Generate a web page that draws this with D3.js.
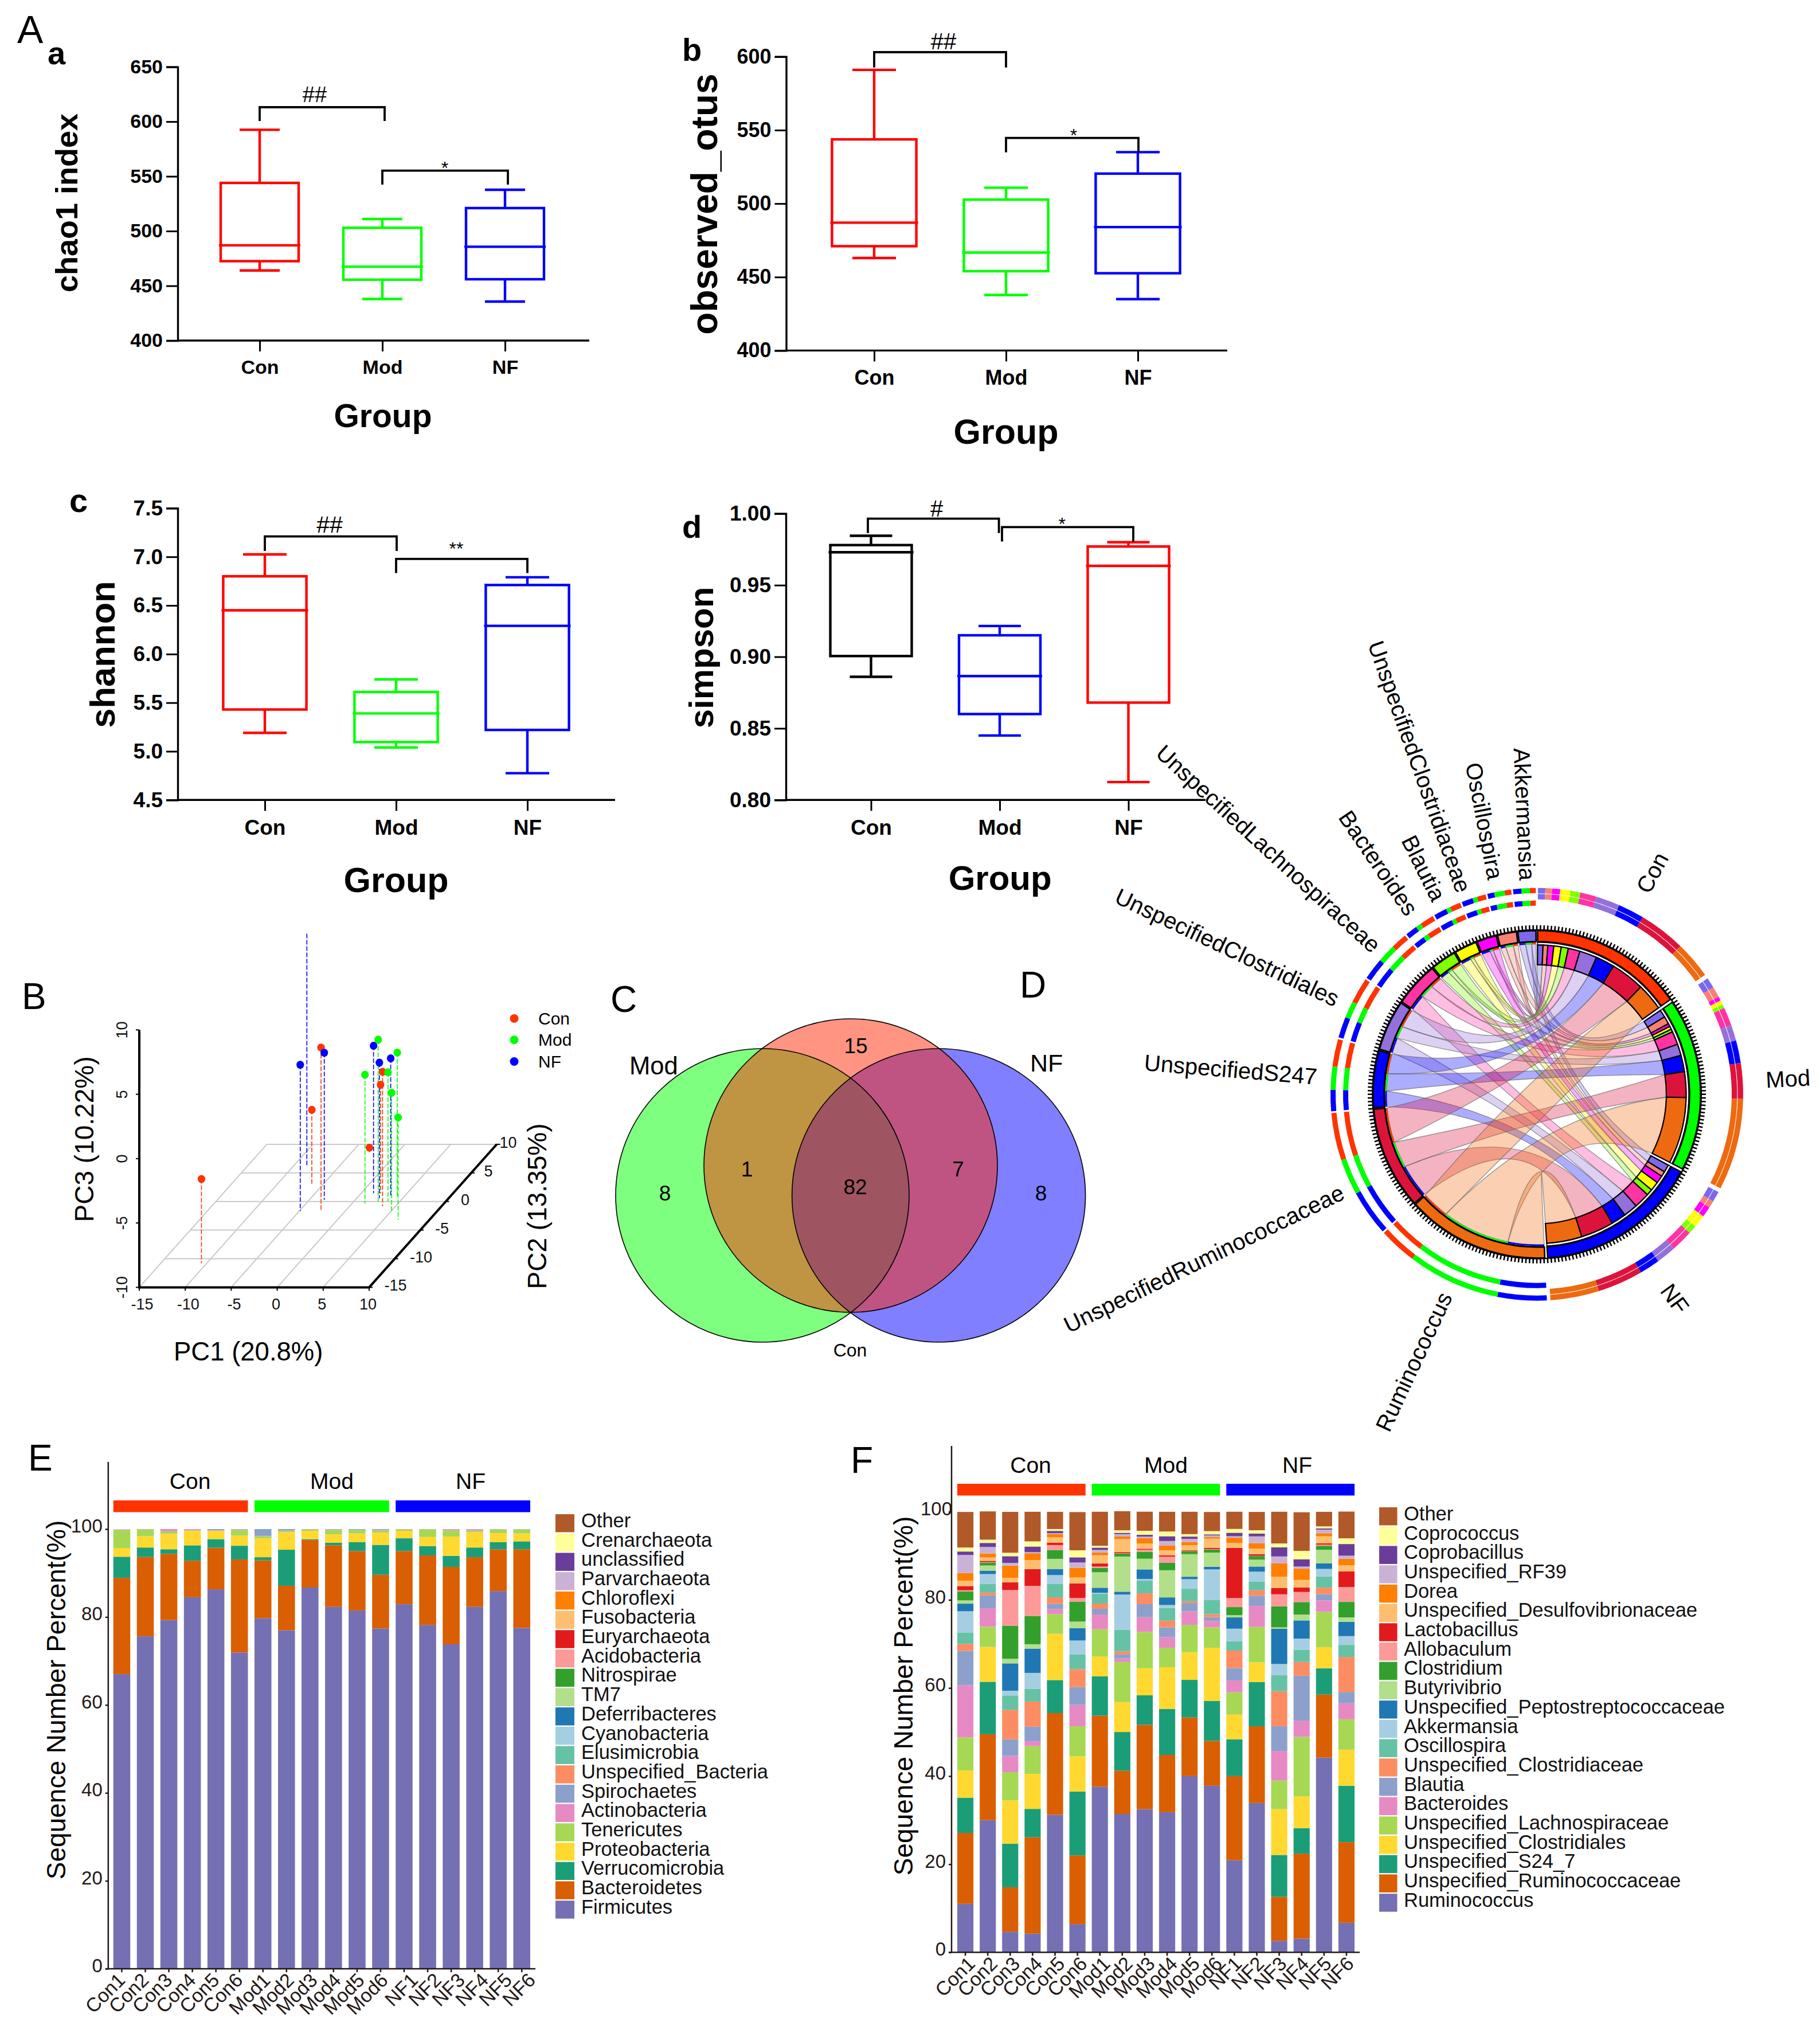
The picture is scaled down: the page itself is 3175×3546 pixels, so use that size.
<!DOCTYPE html>
<html><head><meta charset="utf-8">
<script src="https://cdn.jsdelivr.net/npm/d3@7/dist/d3.min.js"></script>
<style>html,body{margin:0;padding:0;background:#fff}svg{display:block}text{font-family:"Liberation Sans",Arial,sans-serif}</style>
</head><body>
<svg id="chart" width="3175" height="3546" viewBox="0 0 3175 3546"></svg>
<script>
// ---------- data ----------
const groups = ["Con","Mod","NF"];
const samples = ["Con1","Con2","Con3","Con4","Con5","Con6","Mod1","Mod2","Mod3","Mod4","Mod5","Mod6","NF1","NF2","NF3","NF4","NF5","NF6"];
// box statistics: whisker high, q3, median, q1, whisker low
const chaoCon=[592.5,544,487,472.5,464], chaoMod=[511,503,467.5,455.6,438], chaoNF=[537.7,521,485.7,456,435.6];
const otusCon=[591,543.7,487,471,463], otusMod=[510.8,502.7,466.7,454,437.8], otusNF=[535,520.4,484,452.6,435];
const shanCon=[7.025,6.80,6.45,5.43,5.19], shanMod=[5.74,5.61,5.39,5.095,5.04], shanNF=[6.79,6.71,6.29,5.22,4.775];
const simpCon=[0.9845,0.978,0.973,0.9005,0.886], simpMod=[0.9215,0.915,0.8865,0.860,0.845], simpNF=[0.980,0.977,0.9635,0.868,0.8125];
// PCoA [pc1, pc2, pc3]
const pcoaCon=[[-10.57,-10.8,-3.45],[-6.14,2.84,-4.14],[-2.64,-1.66,2.70],[-3.07,8.6,-9.64],[3.6,-0.84,0.45],[2.1,1.46,-1.57]];
const pcoaMod=[[2.69,-0.07,2.6],[4.4,0.6,1.3],[1.4,-0.33,0],[3.76,-0.07,0.07],[5.2,-1.96,-0.68],[6.6,-3.2,-2.05]];
const pcoaNF=[[-8.6,6.3,8.5],[-4.9,-1.66,1.36],[-3.37,0.29,1.43],[1.34,1.46,1.45],[2.45,0.6,0.52],[3.49,0.95,0.7]];
const pcoaTicksX=[-15,-10,-5,0,5,10], pcoaTicksY=[-15,-10,-5,0,5,10], pcoaTicksZ=[-10,-5,0,5,10];
const vennCounts=["15","1","82","7","8","8"];
// phylum stack
const phylumNames=["Firmicutes","Bacteroidetes","Verrucomicrobia","Proteobacteria","Tenericutes","Actinobacteria","Spirochaetes","Unspecified_Bacteria","Elusimicrobia","Cyanobacteria","Deferribacteres","TM7","Nitrospirae","Acidobacteria","Euryarchaeota","Fusobacteria","Chloroflexi","Parvarchaeota","unclassified","Crenarchaeota","Other"];
const firmicutes=[67,75.6,79.3,84.5,86.3,71.9,79.7,77,86.7,82.3,81.5,77.4,82.9,78.2,73.8,82.3,85.9,77.5];
const bacteroidetes=[21.9,18.05,15.05,8.3,9.45,21.2,13.2,10.1,10.8,14,13.5,12.2,12.1,15.8,17.6,11.3,9.5,17.9];
const verrucomicrobia=[4.8,2.15,1.05,3.5,1.95,3.1,0.7,8.2,0.2,0.6,2,6.8,2.9,2.1,2.5,2.2,1.6,1.8];
const proteobacteria=[2,2.6,3.5,3.3,1.9,2.3,4.3,4,1.9,1.9,2,2.8,1.7,2.1,4.4,3.5,2.1,1.8];
const tenericutes=[4.1,1.5,0.6,0.1,0.05,1.3,0.5,0.3,0.3,1,0.8,0.45,0.3,1.7,1.4,0.35,0.8,0.9];
const actinobacteria=[0.1,0.05,0.5,0.25,0.05,0.1,0.05,0.1,0.05,0.1,0.05,0.15,0.05,0.05,0.25,0.3,0.05,0.05];
const spirochaetes=[0.05,0.05,0,0.05,0.3,0.1,1.55,0.3,0.05,0.1,0.15,0.2,0.05,0.05,0.05,0.05,0.05,0.05];
const phylumSeries=[firmicutes,bacteroidetes,verrucomicrobia,proteobacteria,tenericutes,actinobacteria,spirochaetes];
// genus stack
const genusNames=["Ruminococcus","Unspecified_Ruminococcaceae","Unspecified_S24_7","Unspecified_Clostridiales","Unspecified_Lachnospiraceae","Bacteroides","Blautia","Unspecified_Clostridiaceae","Oscillospira","Akkermansia","Unspecified_Peptostreptococcaceae","Butyrivibrio","Clostridium","Allobaculum","Lactobacillus","Unspecified_Desulfovibrionaceae","Dorea","Unspecified_RF39","Coprobacillus","Coprococcus","Other"];
const ruminococcus=[11,30,4.7,4.25,31.2,6.4,37.6,31.4,32.5,31.8,40,37.8,20.9,33.9,2.6,3.1,44.2,6.7];
const ruminococcaceae=[16.1,19.5,10.05,21.85,23.1,15.6,16.1,9.8,19.15,13,13.3,10.2,19.1,17.4,10,19.3,14.3,18.3];
const s247=[8,11.9,9.9,6.45,7.5,14.5,8.93,8.8,6.68,10.45,8.54,9.07,8.35,10.06,9.5,5.8,5.94,12.8];
const clostridiales=[6.2,7.9,9.85,7.95,10.5,8,4.55,6.8,6.16,9.45,6.29,12.06,5.6,4.47,10.4,7.2,4.81,8.2];
const lachnospiraceae=[7.5,4.6,6.4,6.3,4.47,6.8,6.16,9.1,8.24,4.42,6.2,4.64,5.07,8.02,6.5,13.5,8.02,6.9];
const bacteroides=[11.8,4.2,3.7,1.1,1.17,4.86,3.34,0.82,3.34,2.43,3.08,1.43,2.69,4.77,6.7,3.7,2.6,3.64];
const blautia=[7.8,2.9,3.75,3.3,1.17,4.03,1.3,0.95,2.95,2.21,1.86,0.87,2.78,2.3,5.6,10.19,1.43,2.56];
const clostridiaceae=[1.6,0.65,6.7,5.72,1.47,4.08,1.17,0.65,2.47,1.52,0.43,0.69,3.99,1.26,7.98,3.12,1.47,7.94];
const oscillospira=[2.6,1.95,3.25,2.9,3,3.38,2.21,4.86,2.86,2.9,2.82,3.25,2.08,2,3.6,2.78,2.56,2.73];
const akkermansia=[4.81,2.25,1.08,3.6,2.04,3.12,0.26,8.02,0.39,0.65,2.17,6.9,2.9,2.21,2.56,2.52,1.69,2];
const peptostrep=[1.73,0.78,6.2,5.51,1.39,2.82,1.13,0.65,2.17,1.73,0.56,0.61,2.56,1.17,8.02,4.12,1.26,3.25];
const butyrivibrio=[0.74,1.17,1.04,1,2.3,1.47,3.51,7.98,2.43,6.16,5.12,3.21,0.52,1.56,0.3,1.34,3.08,1];
const clostridium=[2.04,0.65,7.46,6.42,2,4.55,1,0.65,1.56,1.69,0.65,0.69,1.82,0.82,4.77,2.82,0.91,3.51];
const allobaculum=[0.26,0.1,8.15,6.81,1.13,0.82,0.3,0.1,0.48,1.39,0.05,0.1,2.04,0.05,2.73,2.3,0.26,3.38];
const lactobacillus=[0.95,0.3,1.73,3.82,0.52,3.3,0.69,0.26,0.22,0.3,0.17,0.26,11.4,0.39,1.43,1,0.3,3.56];
const desulfo=[1.21,0.78,1.04,2.04,1.21,1.34,1.86,2.95,1.17,1.13,1.17,2.12,1.13,1.26,2.56,1.73,1.6,1.39];
const dorea=[1.73,0.91,2.78,1.56,0.74,2.2,0.61,0.61,1.21,1.13,0.74,0.35,1.17,1.21,3.08,2.56,0.69,1.47];
const rf39=[4.12,1.47,0.61,0.26,0.22,1.21,0.61,0.52,0.39,1,0.69,0.39,0.35,1.56,1.52,0.48,0.82,0.69];
const coprobacillus=[0.78,0.91,1.52,1.26,0.52,1.17,0.52,0.3,0.39,1.08,0.52,0.22,0.78,0.65,2.08,1.65,0.26,2.65];
const coprococcus=[0.91,0.74,0.78,1.17,0.43,1.6,0.43,0.56,0.91,1.08,0.56,0.74,0.87,0.74,0.87,1.91,0.48,1.3];
const otherGenus=[8.07,6.42,9.28,6.72,3.9,8.67,7.72,4.34,4.34,4.47,5.07,4.34,3.9,4.16,7.2,8.76,3.3,6.07];
const genusSeries=[ruminococcus,ruminococcaceae,s247,clostridiales,lachnospiraceae,bacteroides,blautia,clostridiaceae,oscillospira,akkermansia,peptostrep,butyrivibrio,clostridium,allobaculum,lactobacillus,desulfo,dorea,rf39,coprobacillus,coprococcus,otherGenus];
// Brewer-like palette bottom to top
const stackColors=["#7570B3","#D95F02","#1B9E77","#FFD92F","#A6D854","#E78AC3","#8DA0CB","#FC8D62","#66C2A5","#A6CEE3","#1F78B4","#B2DF8A","#33A02C","#FB9A99","#E31A1C","#FDBF6F","#FF7F00","#CAB2D6","#6A3D9A","#FFFF99","#B15928"];
// chord: top ten genera, clockwise
const chordGenera=["Akkermansia","Oscillospira","UnspecifiedClostridiaceae","Blautia","Bacteroides","UnspecifiedLachnospiraceae","UnspecifiedClostridiales","UnspecifiedS247","UnspecifiedRuminococcaceae","Ruminococcus"];
const chordColors=["#7B68EE","#FA8072","#FF00FF","#FFFF00","#7FFF00","#FF34A3","#9370DB","#0000FF","#DC143C","#EE6A10"];
const chordCon=[2.1,1.9,2.3,2.9,2.8,4.6,6.8,7.4,13.3,10.6];
const chordMod=[3,3,1.2,1.2,1.1,5.2,4.5,6.4,10.1,26];
const chordNF=[3,2,3,3.6,2.4,6.2,5.6,5.8,12.9,13.8];
const genusTotals=[6.4,6.8,7,8,9,16,18,20.4,36.7,51];

const RED="#FF0000",GREEN="#00FF00",BLUE="#0000FF",GRED="#FF3300";
const groupColor=[GRED,GREEN,BLUE];
const svg=d3.select("#chart");
svg.append("rect").attr("width",3175).attr("height",3546).attr("fill","#fff");

function T(p,x,y,s,o={}){
  const t=p.append("text").text(s).attr("font-size",o.size||34)
    .attr("font-weight",o.weight||"normal").attr("fill",o.fill||"#000")
    .attr("text-anchor",o.anchor||"start");
  if(o.rot!==undefined) t.attr("transform",`translate(${x},${y}) rotate(${o.rot})`);
  else t.attr("x",x).attr("y",y);
  if(o.dy) t.attr("dy",o.dy);
  return t;
}
// ---------- panel A ----------
const boxPanels=[
 {id:"a",title:"chao1 index",tx:135,ty:354,tsize:54,stats:[chaoCon,chaoMod,chaoNF],cols:[RED,GREEN,BLUE],
  ax:310,right:1028,y0:594,y1:116.6,dom:[400,650],ticks:[400,450,500,550,600,650],fmt:d3.format("d"),cx:[453,881],hb:68,cap:35,fs:34,
  gx:668,gy:745,gs:57,plx:83,ply:112,pls:56,
  br:[[453,671,187,211],[667,886,297.6,322]],sig:[["##",549,178,38],["*",776,304,32]]},
 {id:"b",title:"observed_otus",tx:1251,ty:356,tsize:64,stats:[otusCon,otusMod,otusNF],cols:[RED,GREEN,BLUE],
  ax:1371.5,right:2141,y0:611.4,y1:98.8,dom:[400,600],ticks:[400,450,500,550,600],fmt:d3.format("d"),cx:[1525,1985],hb:73.6,cap:38,fs:36,
  gx:1755,gy:774,gs:61,plx:1190,ply:106,pls:56,
  br:[[1525,1755,91,117.7],[1755,1986,240.6,265.7]],sig:[["##",1646,86,40],["*",1873,247,32]]},
 {id:"c",title:"shannon",tx:200,ty:1141.6,tsize:61.5,stats:[shanCon,shanMod,shanNF],cols:[RED,GREEN,BLUE],
  ax:310,right:1073,y0:1395.3,y1:886.4,dom:[4.5,7.5],ticks:[4.5,5,5.5,6,6.5,7,7.5],fmt:d3.format(".1f"),cx:[462,920],hb:72.6,cap:38,fs:37,
  gx:691,gy:1556,gs:61,plx:121,ply:893,pls:58,
  br:[[462,692,935.6,961],[691,920,974.8,999.4]],sig:[["##",575,929,41],["**",796,968,32]]},
 {id:"d",title:"simpson",tx:1244,ty:1147,tsize:60,stats:[simpCon,simpMod,simpNF],cols:["#000",BLUE,RED],
  ax:1371,right:2103,y0:1395.3,y1:895.8,dom:[0.8,1],ticks:[0.8,0.85,0.9,0.95,1],fmt:d3.format(".2f"),cx:[1519.5,1968.5],hb:71,cap:37,fs:37,
  gx:1744.7,gy:1552,gs:60,plx:1190,ply:938,pls:56,
  br:[[1514,1742.6,904.7,929.8],[1748,1977,919.4,944.5]],sig:[["#",1634,901,40],["*",1852.7,925,32]]}
];
boxPanels.forEach(P=>{
  const g=svg.append("g");
  const y=d3.scaleLinear().domain(P.dom).range([P.y0,P.y1]);
  const x=d3.scalePoint().domain(groups).range(P.cx);
  const ya=g.append("g").attr("transform",`translate(${P.ax},0)`).call(d3.axisLeft(y).tickValues(P.ticks).tickFormat(P.fmt).tickSize(20).tickPadding(6));
  const xa=g.append("g").attr("transform",`translate(0,${P.y0})`).call(d3.axisBottom(x).tickSize(19).tickPadding(15));
  [ya,xa].forEach(a=>{a.selectAll("text").attr("font-size",P.fs).attr("font-weight","bold").attr("fill","#000").style("font-family",'"Liberation Sans"');
    a.selectAll("line").attr("stroke","#000").attr("stroke-width",3);a.select(".domain").attr("stroke","#000").attr("stroke-width",3.4);});
  xa.select(".domain").remove();
  g.append("line").attr("x1",P.ax).attr("x2",P.right).attr("y1",P.y0).attr("y2",P.y0).attr("stroke","#000").attr("stroke-width",3.4);
  P.stats.forEach((s,i)=>{
    const c=P.cols[i],cx=x(groups[i]),L=(x1,y1,x2,y2)=>g.append("line").attr("x1",x1).attr("y1",y1).attr("x2",x2).attr("y2",y2).attr("stroke",c).attr("stroke-width",4.4);
    L(cx,y(s[0]),cx,y(s[1]));L(cx,y(s[3]),cx,y(s[4]));
    L(cx-P.cap,y(s[0]),cx+P.cap,y(s[0]));L(cx-P.cap,y(s[4]),cx+P.cap,y(s[4]));
    g.append("rect").attr("x",cx-P.hb).attr("y",y(s[1])).attr("width",2*P.hb).attr("height",y(s[3])-y(s[1])).attr("fill","none").attr("stroke",c).attr("stroke-width",4.4);
    L(cx-P.hb-3,y(s[2]),cx+P.hb+3,y(s[2]));
  });
  P.br.forEach(b=>g.append("path").attr("d",`M${b[0]},${b[3]}V${b[2]}H${b[1]}V${b[3]}`).attr("fill","none").attr("stroke","#000").attr("stroke-width",3.8));
  P.sig.forEach(s=>T(g,s[1],s[2],s[0],{size:s[3],anchor:"middle"}));
  T(g,P.tx,P.ty,P.title,{size:P.tsize,weight:"bold",anchor:"middle",rot:-90});
  T(g,P.gx,P.gy,"Group",{size:P.gs,weight:"bold",anchor:"middle"});
  T(g,P.plx,P.ply,P.id,{size:P.pls,weight:"bold"});
});
T(svg,30,75,"A",{size:68});

// ---------- panel B ----------
(function(){
  const g=svg.append("g");
  T(g,38,1760,"B",{size:64});
  const xs=d3.scaleLinear().domain([-15,10]).range([243,644]);
  const zs=d3.scaleLinear().domain([-10,10]).range([2245.4,1796.4]);
  const ts=d3.scaleLinear().domain([-15,10]).range([0,1]);
  const DX=222.6,DY=249.5;
  const px=(a,b)=>xs(a)+ts(b)*DX, py=(b,c)=>zs(c)-ts(b)*DY;
  const grid=g.append("g").attr("stroke","#c9c9c9").attr("stroke-width",2);
  pcoaTicksX.forEach(v=>grid.append("line").attr("x1",px(v,-15)).attr("y1",py(-15,-10)).attr("x2",px(v,10)).attr("y2",py(10,-10)));
  pcoaTicksY.forEach(v=>grid.append("line").attr("x1",px(-15,v)).attr("y1",py(v,-10)).attr("x2",px(10,v)).attr("y2",py(v,-10)));
  const axis=g.append("g").attr("stroke","#000").attr("stroke-width",4).attr("fill","none");
  axis.append("path").attr("d",`M${xs(-15)},${zs(10)}V${zs(-10)}H${xs(10)}L${px(10,10)},${py(10,-10)}`);
  pcoaTicksZ.forEach(v=>{axis.append("line").attr("x1",xs(-15)-6).attr("x2",xs(-15)).attr("y1",zs(v)).attr("y2",zs(v)).attr("stroke-width",2);
    T(g,222,zs(v),v,{size:27,anchor:"middle",rot:-90,fill:"#111"});});
  pcoaTicksX.forEach(v=>{axis.append("line").attr("x1",xs(v)).attr("x2",xs(v)).attr("y1",zs(-10)).attr("y2",zs(-10)+6).attr("stroke-width",2);
    T(g,xs(v)+(v<0?5:-2),2284,v,{size:27,anchor:"middle",fill:"#111"});});
  pcoaTicksY.forEach(v=>{axis.append("line").attr("x1",px(10,v)).attr("y1",py(v,-10)).attr("x2",px(10,v)+6).attr("y2",py(v,-10)).attr("stroke-width",2);
    T(g,px(10,v)+(v==10?20:v==5?30:v==0?34:v==-5?38:46),py(v,-10)+6,v,{size:27,anchor:"middle",fill:"#111"});});
  const defs=svg.append("defs");
  defs.append("clipPath").attr("id","pcClip").append("rect").attr("x",200).attr("y",1628).attr("width",800).attr("height",800);
  const pts=g.append("g").attr("clip-path","url(#pcClip)");
  [[pcoaCon,GRED],[pcoaMod,GREEN],[pcoaNF,BLUE]].forEach(([arr,c])=>arr.forEach(d=>{
    pts.append("line").attr("x1",px(d[0],d[1])).attr("x2",px(d[0],d[1])).attr("y1",py(d[1],d[2])).attr("y2",py(d[1],-10)).attr("stroke",c).attr("stroke-width",1.6).attr("stroke-dasharray","8,3");
  }));
  [[pcoaCon,GRED],[pcoaMod,GREEN],[pcoaNF,BLUE]].forEach(([arr,c])=>arr.forEach(d=>{
    pts.append("ellipse").attr("cx",px(d[0],d[1])).attr("cy",py(d[1],d[2])).attr("rx",6.6).attr("ry",7).attr("fill",c);
  }));
  groups.forEach((n,i)=>{const yy=[1776.5,1813.8,1851.5][i];
    g.append("circle").attr("cx",897).attr("cy",yy).attr("r",7.5).attr("fill",groupColor[i]);
    T(g,939,yy+10,n,{size:30});});
  T(g,162.6,1987,"PC3 (10.22%)",{size:46,anchor:"middle",rot:-90});
  T(g,953,2104,"PC2 (13.35%)",{size:46,anchor:"middle",rot:-90});
  T(g,303,2373,"PC1 (20.8%)",{size:45.5});
})();

// ---------- panel C ----------
(function(){
  const g=svg.append("g");
  T(g,1065,1765,"C",{size:64});
  const venn=[["Mod",1330,2085,"rgba(0,255,0,.5)"],["NF",1637.6,2085,"rgba(0,0,255,.5)"],["Con",1484,2033,"rgba(255,41,5,.5)"]];
  venn.forEach(v=>g.append("circle").attr("cx",v[1]).attr("cy",v[2]).attr("r",256).attr("fill",v[3]));
  venn.forEach(v=>g.append("circle").attr("cx",v[1]).attr("cy",v[2]).attr("r",256).attr("fill","none").attr("stroke","#000").attr("stroke-width",1.6));
  const pos=[[1493,1837],[1303,2052],[1492,2083],[1671.5,2052],[1160,2093.5],[1816,2093.5]];
  vennCounts.forEach((s,i)=>T(g,pos[i][0],pos[i][1],s,{size:37,anchor:"middle"}));
  T(g,1098,1873.5,"Mod",{size:43.6});
  T(g,1797,1868.5,"NF",{size:43});
  T(g,1483,2366,"Con",{size:32,anchor:"middle"});
  T(g,1779,1740,"D",{size:64});
})();

// ---------- panel D ----------
(function(){
  const CX=2681,CY=1908.7,rad=d=>d*Math.PI/180;
  const g=svg.append("g").attr("transform",`translate(${CX},${CY})`);
  const matrix=[chordCon,chordMod,chordNF];
  const n=chordGenera.length;
  const rowSum=matrix.map(r=>d3.sum(r));
  const rightK=d3.scaleLinear().domain([0,d3.sum(rowSum)]).range([0,176.2-0.3-2*1.2]);
  // group side angles
  const rightSeg=[],groupArc=[];let a=0.3;
  matrix.forEach((row,gi)=>{
    const s=a;
    row.forEach((v,k)=>{const w=rightK(v);rightSeg.push({gi,k,a0:a,a1:a+w});a+=w;});
    groupArc.push({gi,a0:s,a1:a});a+=1.2;
  });
  // genus side angles: clockwise from Ruminococcus to Akkermansia
  const leftK=d3.scaleLinear().domain([0,d3.sum(genusTotals)]).range([0,359.7-177.2-9*0.5]);
  const genusArc=[],leftSeg=[];let b=177.2;
  d3.range(n-1,-1,-1).forEach(k=>{
    const w=leftK(genusTotals[k]),colSum=matrix[0][k]+matrix[1][k]+matrix[2][k];
    genusArc.push({k,a0:b,a1:b+w});
    let c=b;
    [2,1,0].forEach(gi=>{const ww=w*matrix[gi][k]/colSum;leftSeg.push({gi,k,a0:c,a1:c+ww});c+=ww;});
    b+=w+0.5;
  });
  const arc=(r0,r1,a0,a1)=>d3.arc()({innerRadius:r0,outerRadius:r1,startAngle:rad(a0),endAngle:rad(a1)});
  const P=(r,d)=>[r*Math.sin(rad(d)),-r*Math.cos(rad(d))];
  function ctrl(d1,d2,r){let x=Math.sin(rad(d1))+Math.sin(rad(d2)),y=-Math.cos(rad(d1))-Math.cos(rad(d2));const l=Math.hypot(x,y)||1;return [r*x/l,r*y/l];}
  // ribbons
  const ribbons=g.append("g");
  d3.range(n).forEach(k=>{[0,1,2].forEach(gi=>{
    const s=rightSeg.find(d=>d.gi==gi&&d.k==k),t=leftSeg.find(d=>d.gi==gi&&d.k==k);
    const p=d3.path(),R1=226,R2=262;
    const ps=P(R1,s.a0);p.moveTo(ps[0],ps[1]);
    p.arc(0,0,R1,rad(s.a0-90),rad(s.a1-90));
    let c=ctrl(s.a1,t.a0,34),q=P(R2,t.a0);p.quadraticCurveTo(c[0],c[1],q[0],q[1]);
    p.arc(0,0,R2,rad(t.a0-90),rad(t.a1-90));
    c=ctrl(t.a1,s.a0,34);p.quadraticCurveTo(c[0],c[1],ps[0],ps[1]);p.closePath();
    ribbons.append("path").attr("d",p.toString()).attr("fill",chordColors[k]).attr("fill-opacity",0.32).attr("stroke","#666").attr("stroke-opacity",.65).attr("stroke-width",1.4);
  });});
  // tick ring
  g.append("path").attr("d",arc(285.6,288,0,360)).attr("fill","#000");
  const tk=g.append("g").attr("stroke","#000").attr("stroke-width",2.6);
  d3.range(0,360,1.25).forEach(d=>{const p0=P(287,d),p1=P(295,d);tk.append("line").attr("x1",p0[0]).attr("y1",p0[1]).attr("x2",p1[0]).attr("y2",p1[1]);});
  // group side
  groupArc.forEach(d=>{
    g.append("path").attr("d",arc(266.5,285.6,d.a0,d.a1)).attr("fill",groupColor[d.gi]).attr("stroke","#000").attr("stroke-width",2.4);
    g.append("path").attr("d",arc(260.5,265,d.a0,d.a1)).attr("fill","#fff").attr("stroke","#000").attr("stroke-width",1.6);
  });
  rightSeg.forEach(d=>g.append("path").attr("d",arc(226,260.5,d.a0,d.a1)).attr("fill",chordColors[d.k]).attr("stroke","#000").attr("stroke-width",2.2));
  // genus side
  genusArc.forEach(d=>g.append("path").attr("d",arc(266.5,285.6,d.a0,d.a1)).attr("fill",chordColors[d.k]).attr("stroke","#000").attr("stroke-width",2.6));
  genusArc.forEach(d=>g.append("path").attr("d",arc(264.5,266.5,d.a0,d.a1)).attr("fill","#000"));
  leftSeg.forEach(d=>g.append("path").attr("d",arc(262,264.5,d.a0,d.a1)).attr("fill",groupColor[d.gi]));
  // outer rings
  rightSeg.forEach(d=>{
    g.append("path").attr("d",arc(340,349.5,d.a0,d.a1)).attr("fill",chordColors[d.k]);
    g.append("path").attr("d",arc(350.5,360,d.a0,d.a1)).attr("fill",chordColors[d.k]);
  });
  leftSeg.forEach(d=>{
    g.append("path").attr("d",arc(329,338,d.a0,d.a1)).attr("fill",groupColor[d.gi]);
    g.append("path").attr("d",arc(351,360,d.a0,d.a1)).attr("fill",groupColor[d.gi]);
  });
  // labels (centre of text in page coords)
  const labelPos=[[2660,1420,87.5],[2590,1432,79],[2477,1337,70.4],[2484,1514,63.5],[2405,1505,55.7],[2213,1480,42.5],[2141,1652,25.4],[2147,1865,4.7],[2100,2195,-26],[2466,2375,-65]];
  const lab=svg.append("g");
  chordGenera.forEach((s,i)=>T(lab,labelPos[i][0],labelPos[i][1],s,{size:40,anchor:"middle",rot:labelPos[i][2],dy:".36em"}));
  const grpPos=[[2882,1522,-62],[3119,1881,-3],[2922,2265,54]];
  groups.forEach((s,i)=>T(lab,grpPos[i][0],grpPos[i][1],s,{size:40,anchor:"middle",rot:grpPos[i][2],dy:".36em"}));
})();

// ---------- panels E, F ----------
function stacked(o){
  const g=svg.append("g");
  const x=d3.scaleBand().domain(samples).range([o.x0,o.x1]).paddingInner(0.28).paddingOuter(0);
  const y=d3.scaleLinear().domain([0,100]).range([o.y0,o.y100]);
  const rows=samples.map((s,i)=>{const r={s};o.names.forEach((n,k)=>{r[n]=o.series[k]?o.series[k][i]:0;});return r;});
  const st=d3.stack().keys(o.names)(rows);
  st.forEach((layer,k)=>{
    g.append("g").attr("fill",stackColors[k]).selectAll("rect").data(layer).join("rect")
      .attr("x",d=>x(d.data.s)).attr("width",x.bandwidth()).attr("y",d=>y(d[1])).attr("height",d=>Math.max(0,y(d[0])-y(d[1])));
  });
  const dark="#231815";
  const ya=g.append("g").attr("transform",`translate(${o.ax},0)`).call(d3.axisLeft(y).tickValues([0,20,40,60,80,100]).tickSize(5).tickPadding(5));
  ya.select(".domain").remove();
  ya.selectAll("text").attr("font-size",33).attr("fill",dark).style("font-family",'"Liberation Sans"').attr("x",d=>d==100?o.hundredX:-10).attr("y",-5);
  ya.selectAll("line").attr("stroke",dark).attr("stroke-width",2.5);
  g.append("line").attr("x1",o.ax).attr("x2",o.ax).attr("y1",o.top).attr("y2",o.y0).attr("stroke",dark).attr("stroke-width",2.5);
  const xa=g.append("g").attr("transform",`translate(0,${o.y0})`).call(d3.axisBottom(x).tickSize(6));
  xa.select(".domain").remove();
  xa.selectAll("line").attr("stroke",dark).attr("stroke-width",2.5);
  xa.selectAll("text").attr("font-size",34).attr("fill",dark).style("font-family",'"Liberation Sans"').attr("text-anchor","end").attr("x",0).attr("y",0).attr("dy",0)
    .attr("transform",(d,i)=>`translate(${o.lblDx[Math.floor(i/6)]},${o.lblDy}) rotate(-45)`);
  g.append("line").attr("x1",o.ax-5).attr("x2",o.axR).attr("y1",o.y0).attr("y2",o.y0).attr("stroke",dark).attr("stroke-width",2.5);
  groups.forEach((n,i)=>{
    const a=x(samples[i*6]),b=x(samples[i*6+5])+x.bandwidth();
    g.append("rect").attr("x",a).attr("y",o.barY).attr("width",b-a).attr("height",20.5).attr("fill",groupColor[i]);
    T(g,o.gcx[i],o.gY,n,{size:39,anchor:"middle"});
  });
  T(g,o.tx,o.ty,"Sequence Number Percent(%)",{size:46,anchor:"middle",rot:-90});
  const m=o.names.length;
  o.names.forEach((n,k)=>{
    const yy=o.leg0+(m-1-k)*33.7;
    g.append("rect").attr("x",o.legX).attr("y",yy-15.7).attr("width",o.legW).attr("height",31.4).attr("fill",stackColors[k]);
    T(g,o.legT,yy+7,n,{size:o.legS,fill:"#111"});
  });
}
T(svg,49,2565,"E",{size:64});
T(svg,1484,2569,"F",{size:64});
stacked({names:phylumNames,series:phylumSeries,x0:197.7,x1:925,y0:3434,y100:2667,ax:188.8,axR:934,top:2550,hundredX:-10,
  barY:2617,gcx:[331.6,579,821],gY:2597,tx:113.5,ty:2965,leg0:2656.8,legX:969,legW:33,legT:1014,legS:34.5,lblDx:[8,15,26],lblDy:22});
stacked({names:genusNames,series:genusSeries,x0:1670,x1:2363,y0:3405.3,y100:2636.8,ax:1660,axR:2372,top:2522,hundredX:1,
  barY:2588,gcx:[1798,2034,2263],gY:2568.7,tx:1592,ty:2958,leg0:2644.8,legX:2406,legW:31.5,legT:2449,legS:34.5,lblDx:[19,20,15],lblDy:22});
</script>
</body></html>
